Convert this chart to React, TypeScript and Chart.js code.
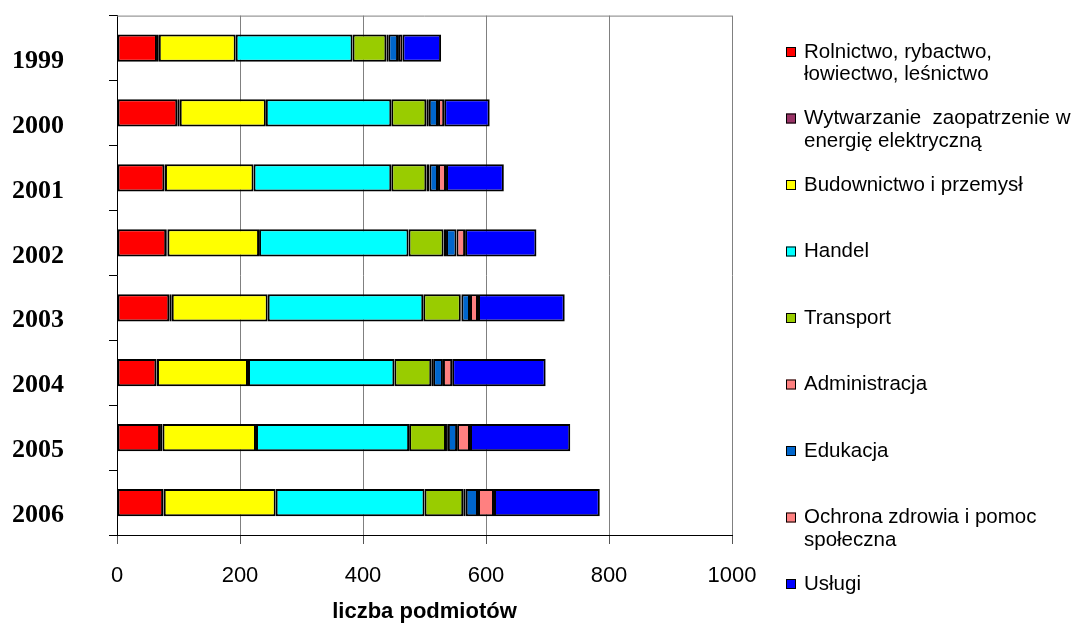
import React, { useEffect, useRef } from "react";
import { Chart, registerables } from "chart.js";

Chart.register(...registerables);

const years = ["1999", "2000", "2001", "2002", "2003", "2004", "2005", "2006"];

const rolnictwo = [65, 98, 77, 80, 85, 64, 70, 75];
const wytwarzanie = [3, 4, 1, 2, 4, 1, 4, 1];
const budownictwo = [125, 140, 144, 149, 156, 148, 152, 182];
const handel = [190, 204, 224, 243, 253, 238, 249, 242];
const transport = [55, 57, 57, 57, 61, 60, 60, 63];
const administracja = [3, 4, 5, 4, 1, 3, 3, 4];
const edukacja = [16, 15, 14, 17, 14, 16, 15, 20];
const ochrona = [7, 10, 13, 14, 13, 15, 21, 26];
const uslugi = [63, 74, 94, 116, 141, 152, 163, 172];

const seriesLabels: string[][] = [
  ["Rolnictwo, rybactwo,", "łowiectwo, leśnictwo"],
  ["Wytwarzanie  zaopatrzenie w", "energię elektryczną"],
  ["Budownictwo i przemysł"],
  ["Handel"],
  ["Transport"],
  ["Administracja"],
  ["Edukacja"],
  ["Ochrona zdrowia i pomoc", "społeczna"],
  ["Usługi"],
];

const seriesValues = [
  rolnictwo,
  wytwarzanie,
  budownictwo,
  handel,
  transport,
  administracja,
  edukacja,
  ochrona,
  uslugi,
];

const seriesColors = [
  "#FF0000",
  "#993366",
  "#FFFF00",
  "#00FFFF",
  "#99CC00",
  "#FF8080",
  "#0066CC",
  "#FF8080",
  "#0000FF",
];

const xTicks = [0, 200, 400, 600, 800, 1000];
const xTitle = "liczba podmiotów";

const SANS = '"Liberation Sans", Arial, sans-serif';
const SERIF = '"Liberation Serif", "Times New Roman", serif';

const decorPlugin = {
  id: "decor",
  afterDraw(chart: any) {
    const { ctx, chartArea } = chart;
    ctx.save();
    // top border of plot area
    ctx.strokeStyle = "#808080";
    ctx.lineWidth = 1;
    ctx.beginPath();
    ctx.moveTo(chartArea.left, chartArea.top + 0.5);
    ctx.lineTo(chartArea.right, chartArea.top + 0.5);
    ctx.stroke();

    // legend
    const boxX = 786;
    const textX = 804;
    const startY = 52;
    const step = 66.5;
    const lineH = 22.5;
    const box = 10;
    ctx.font = `20.5px ${SANS}`;
    ctx.textBaseline = "middle";
    ctx.textAlign = "left";
    chart.data.datasets.forEach((ds: any, i: number) => {
      const y = startY + i * step;
      ctx.fillStyle = ds.backgroundColor;
      ctx.fillRect(boxX, y - box / 2, box, box);
      ctx.strokeStyle = "#000";
      ctx.lineWidth = 1;
      ctx.strokeRect(boxX + 0.5, y - box / 2 + 0.5, box - 1, box - 1);
      ctx.fillStyle = "#000";
      const lines: string[] = ds.legendLines;
      lines.forEach((ln, j) => {
        ctx.fillText(ln, textX, y + j * lineH);
      });
    });
    ctx.restore();
  },
};

export default function App() {
  const canvasRef = useRef<HTMLCanvasElement | null>(null);

  useEffect(() => {
    if (!canvasRef.current) return;
    const chart = new Chart(canvasRef.current, {
      type: "bar",
      data: {
        labels: years,
        datasets: seriesValues.map((vals, i) => ({
          label: seriesLabels[i].join(" "),
          legendLines: seriesLabels[i],
          data: vals,
          backgroundColor: seriesColors[i],
          borderColor: "#000000",
          borderWidth: 2,
          borderSkipped: false,
          categoryPercentage: 1,
          barPercentage: 0.42,
        })) as any,
      },
      options: {
        indexAxis: "y",
        responsive: false,
        animation: false,
        layout: { padding: { left: 12, right: 347, top: 15, bottom: 0 } },
        plugins: {
          legend: { display: false },
          tooltip: { enabled: false },
        },
        scales: {
          x: {
            stacked: true,
            min: 0,
            max: 1000,
            afterBuildTicks: (scale: any) => {
              scale.ticks = xTicks.map((v) => ({ value: v }));
            },
            afterFit: (scale: any) => {
              scale.height = 88;
            },
            grid: {
              color: "#808080",
              lineWidth: 1,
              tickLength: 9,
              tickColor: "#555555",
            },
            border: { color: "#000000", width: 1 },
            ticks: {
              color: "#000",
              font: { family: SANS, size: 22 },
              padding: 19,
              maxRotation: 0,
              callback: (v: any) => String(v),
            },
            title: {
              display: true,
              text: xTitle,
              color: "#000",
              font: { family: SANS, size: 22, weight: "bold", lineHeight: 1 },
              padding: { top: 0, bottom: 0 },
            },
          },
          y: {
            stacked: true,
            afterFit: (scale: any) => {
              scale.width = 105;
            },
            grid: {
              display: true,
              drawOnChartArea: false,
              drawTicks: true,
              tickLength: 8,
              tickColor: "#000",
            },
            border: { color: "#000000", width: 1 },
            ticks: {
              color: "#000",
              font: { family: SERIF, size: 26, weight: "bold" },
              padding: 0,
              crossAlign: "far",
              labelOffset: 13,
            },
          },
        },
      },
      plugins: [decorPlugin],
    });
    return () => chart.destroy();
  }, []);

  return (
    <div style={{ position: "fixed", left: 0, top: 0, width: 1079, height: 623, background: "#fff" }}>
      <canvas ref={canvasRef} width={1079} height={623} />
    </div>
  );
}
